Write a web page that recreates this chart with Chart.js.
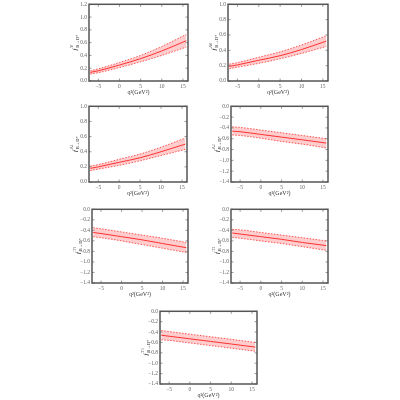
<!DOCTYPE html>
<html>
<head>
<meta charset="utf-8">
<script src="https://cdn.jsdelivr.net/npm/chart.js@4.4.0/dist/chart.umd.min.js"></script>
<style>
  body { margin: 0; background: #fff; width: 400px; height: 400px; position: relative; overflow: hidden; }
  .panel { position: absolute; }
</style>
</head>
<body>
<script>
// q^2 sample points (GeV^2)
var qsq = [-6.9, -5, 0, 5, 10, 15.8];

// form factor central values and band edges
var fV    = [0.135, 0.16, 0.25, 0.35, 0.47, 0.63];
var fVlo  = [0.11, 0.13, 0.21, 0.30, 0.40, 0.53];
var fVhi  = [0.16, 0.19, 0.29, 0.40, 0.54, 0.73];

var fA0   = [0.19, 0.21, 0.27, 0.33, 0.41, 0.52];
var fA0lo = [0.16, 0.18, 0.23, 0.29, 0.36, 0.45];
var fA0hi = [0.22, 0.24, 0.31, 0.38, 0.47, 0.59];

var fA1   = [0.18, 0.20, 0.26, 0.32, 0.40, 0.50];
var fA1lo = [0.15, 0.17, 0.22, 0.28, 0.35, 0.43];
var fA1hi = [0.21, 0.23, 0.30, 0.37, 0.46, 0.58];

var fA2   = [-0.46, -0.47, -0.52, -0.57, -0.62, -0.68];
var fA2lo = [-0.53, -0.54, -0.59, -0.65, -0.70, -0.77];
var fA2hi = [-0.38, -0.39, -0.44, -0.49, -0.54, -0.60];

var fT1   = [-0.44, -0.46, -0.52, -0.58, -0.65, -0.73];
var fT1lo = [-0.52, -0.54, -0.60, -0.67, -0.74, -0.82];
var fT1hi = [-0.35, -0.37, -0.43, -0.49, -0.55, -0.63];

var fT2   = [-0.45, -0.47, -0.52, -0.57, -0.63, -0.69];
var fT2lo = [-0.53, -0.55, -0.60, -0.65, -0.71, -0.78];
var fT2hi = [-0.38, -0.39, -0.44, -0.49, -0.54, -0.60];

var fT3   = [-0.46, -0.48, -0.53, -0.58, -0.63, -0.69];
var fT3lo = [-0.55, -0.56, -0.61, -0.66, -0.71, -0.77];
var fT3hi = [-0.37, -0.39, -0.44, -0.49, -0.54, -0.60];

var superscripts = ["V", "A0", "A1", "A2", "T1", "T2", "T3"];
var yRanges = [[0, 1.2], [0, 1.0], [0, 1.0], [-1.4, 0], [-1.4, 0], [-1.4, 0], [-1.4, 0]];
var xTickValues = [-5, 0, 5, 10, 15];

// plot box of each panel: left, top, right, bottom
var boxes = [
  [89, 1, 188, 81],
  [228, 1, 328, 81],
  [89, 103, 187, 182],
  [231, 103, 328, 182],
  [92, 206, 188, 283],
  [231, 206, 328, 283],
  [160, 308, 257, 384]
];

var series = [
  [fV, fVlo, fVhi], [fA0, fA0lo, fA0hi], [fA1, fA1lo, fA1hi], [fA2, fA2lo, fA2hi],
  [fT1, fT1lo, fT1hi], [fT2, fT2lo, fT2hi], [fT3, fT3lo, fT3hi]
];

var PAD_L = 30, PAD_T = 2, PAD_R = 4, PAD_B = 16;

function pts(arr) {
  return arr.map(function(v, i) { return {x: qsq[i], y: v}; });
}

function fmt(v) {
  if (Math.abs(v) < 1e-9) return "0.0";
  return v.toFixed(1).replace("-", "\u2212");
}

function drawYLabel(ctx, x, y, sup) {
  ctx.save();
  ctx.translate(x, y);
  ctx.rotate(-Math.PI / 2);
  ctx.fillStyle = "#333";
  ctx.textBaseline = "alphabetic";
  ctx.textAlign = "left";
  ctx.font = "italic 7px 'Liberation Serif'";
  var wf = ctx.measureText("f").width;
  ctx.font = "4.5px 'Liberation Serif'";
  var supMain = sup.charAt(0), supSub = sup.slice(1);
  var ws = ctx.measureText(supMain).width + (supSub ? 2.5 : 0);
  var wb = ctx.measureText("B\u2192D*").width;
  var total = wf + Math.max(ws, wb) + 1;
  var sx = -total / 2;
  ctx.font = "italic 7px 'Liberation Serif'";
  ctx.fillText("f", sx, 2.5);
  ctx.font = "4.5px 'Liberation Serif'";
  ctx.fillText(supMain, sx + wf + 1, -1.5);
  if (supSub) {
    var wm = ctx.measureText(supMain).width;
    ctx.font = "3.2px 'Liberation Serif'";
    ctx.fillText(supSub, sx + wf + 1 + wm, -0.7);
  }
  ctx.font = "4.5px 'Liberation Serif'";
  ctx.fillText("B\u2192D*", sx + wf + 1, 4.5);
  ctx.restore();
}

var framePlugin = {
  id: "frame",
  afterDraw: function(chart) {
    var ctx = chart.ctx, a = chart.chartArea;
    var sx = chart.scales.x, sy = chart.scales.y;
    ctx.save();
    ctx.strokeStyle = "#555";
    ctx.lineWidth = 0.6;
    ctx.beginPath();
    sx.ticks.forEach(function(t) {
      var px = sx.getPixelForValue(t.value);
      ctx.moveTo(px, a.bottom); ctx.lineTo(px, a.bottom - 2.5);
      ctx.moveTo(px, a.top); ctx.lineTo(px, a.top + 2.5);
    });
    sy.ticks.forEach(function(t) {
      var py = sy.getPixelForValue(t.value);
      ctx.moveTo(a.left, py); ctx.lineTo(a.left + 2.5, py);
      ctx.moveTo(a.right, py); ctx.lineTo(a.right - 2.5, py);
    });
    ctx.stroke();
    ctx.strokeStyle = "#555";
    ctx.lineWidth = 1.5;
    ctx.strokeRect(a.left, a.top, a.right - a.left, a.bottom - a.top);

    // axis labels
    ctx.fillStyle = "#333";
    ctx.textAlign = "center";
    ctx.textBaseline = "alphabetic";
    ctx.font = "6px 'Liberation Serif'";
    ctx.fillText("q\u00B2(GeV\u00B2)", (a.left + a.right) / 2, a.bottom + 13);
    drawYLabel(ctx, a.left - 15, (a.top + a.bottom) / 2, chart.options.plugins.frame.sup);
    ctx.restore();
  }
};

boxes.forEach(function(box, k) {
  var w = box[2] - box[0], h = box[3] - box[1];
  var div = document.createElement("div");
  div.className = "panel";
  div.style.left = (box[0] - PAD_L) + "px";
  div.style.top = (box[1] - PAD_T) + "px";
  var canvas = document.createElement("canvas");
  canvas.width = w + PAD_L + PAD_R;
  canvas.height = h + PAD_T + PAD_B;
  div.appendChild(canvas);
  document.body.appendChild(div);

  var s = series[k];
  var band = "rgba(255, 90, 90, 0.3)";
  new Chart(canvas, {
    type: "line",
    data: {
      datasets: [
        { data: pts(s[1]), borderColor: "#ff3030", borderWidth: 0.8, borderDash: [1.5, 1.5], pointRadius: 0, fill: false, cubicInterpolationMode: "monotone" },
        { data: pts(s[2]), borderColor: "#ff3030", borderWidth: 0.8, borderDash: [1.5, 1.5], pointRadius: 0, fill: "-1", backgroundColor: band, cubicInterpolationMode: "monotone" },
        { data: pts(s[0]), borderColor: "#ff2020", borderWidth: 1, pointRadius: 0, fill: false, cubicInterpolationMode: "monotone" }
      ]
    },
    options: {
      responsive: false,
      animation: false,
      devicePixelRatio: 1,
      layout: { padding: { left: 0, top: PAD_T, right: PAD_R, bottom: 0 } },
      plugins: { legend: { display: false }, tooltip: { enabled: false }, frame: { sup: superscripts[k] } },
      scales: {
        x: {
          type: "linear", min: -7.2, max: 16.2,
          afterBuildTicks: function(scale) { scale.ticks = xTickValues.map(function(v) { return {value: v}; }); },
          afterFit: function(scale) { scale.height = PAD_B; },
          grid: { display: false, drawTicks: false }, border: { display: false },
          ticks: { padding: 2, font: { size: 5.5, family: "'Liberation Serif'" }, color: "#666", maxRotation: 0,
                   callback: function(v) { return String(v).replace("-", "\u2212"); } }
        },
        y: {
          min: yRanges[k][0], max: yRanges[k][1],
          afterFit: function(scale) { scale.width = PAD_L; },
          grid: { display: false, drawTicks: false }, border: { display: false },
          ticks: { stepSize: 0.2, padding: 2, font: { size: 5.5, family: "'Liberation Serif'" }, color: "#666",
                   callback: function(v) { return fmt(v); } }
        }
      }
    },
    plugins: [framePlugin]
  });
});
</script>
</body>
</html>
